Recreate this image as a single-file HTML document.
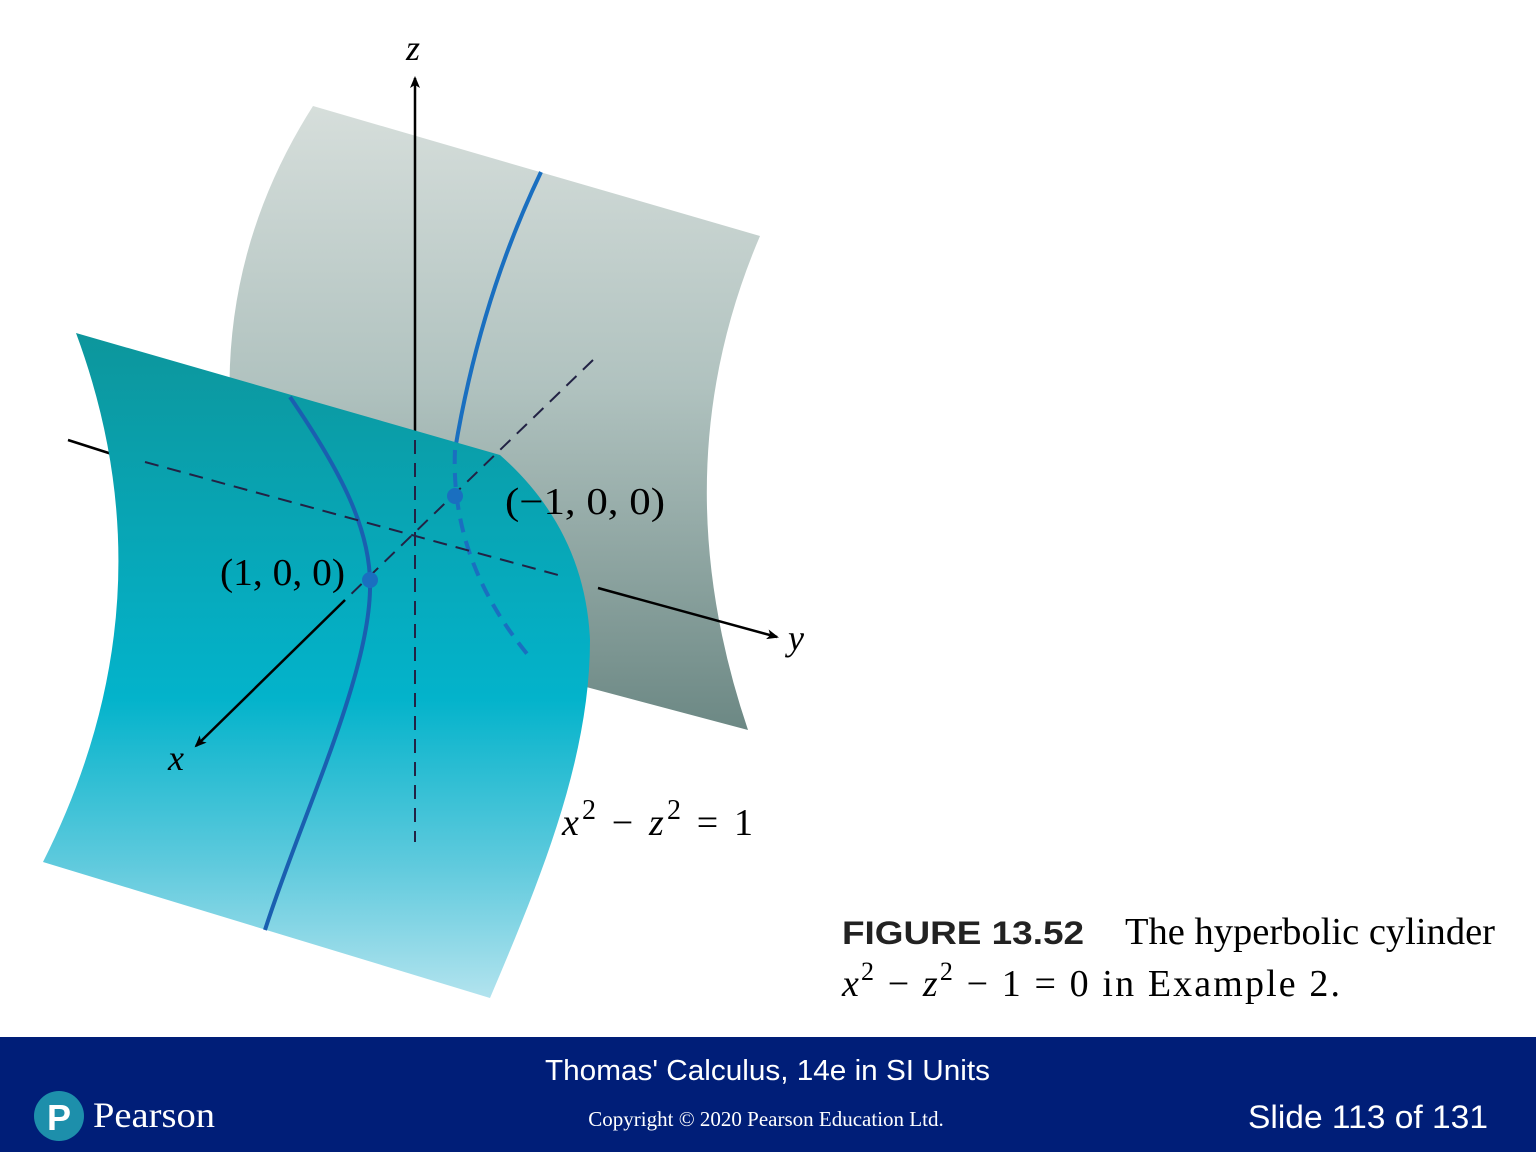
<!DOCTYPE html>
<html><head><meta charset="utf-8"><style>
html,body{margin:0;padding:0;width:1536px;height:1152px;overflow:hidden;background:#fff;font-family:"Liberation Serif",serif}
svg{display:block}
</style></head><body>
<svg width="1536" height="1152" viewBox="0 0 1536 1152">
<defs>
<linearGradient id="gback" x1="0" y1="0" x2="0" y2="1" gradientUnits="objectBoundingBox">
<stop offset="0" stop-color="#d6dedb"/><stop offset="0.45" stop-color="#b0c2bf"/><stop offset="1" stop-color="#6c8884"/></linearGradient>
<linearGradient id="gfront" x1="0" y1="0" x2="0" y2="1">
<stop offset="0" stop-color="#0d969c"/><stop offset="0.55" stop-color="#03b3cb"/><stop offset="0.8" stop-color="#5fcadd"/><stop offset="1" stop-color="#b2e3ee"/></linearGradient>
<marker id="arr" markerWidth="12" markerHeight="10" refX="10" refY="5" orient="auto" markerUnits="userSpaceOnUse"><path d="M0,0 L12,5 L0,10 L3,5 Z" fill="#000"/></marker>
</defs>
<g>
<path d="M313,106 L760,236 Q660,470 748,730 L560,680 L232,440 Q215,260 313,106 Z" fill="url(#gback)"/>
</g>
<path d="M541,172 Q480,300 455,450" stroke="#1a6fc0" stroke-width="4" fill="none"/>
<path d="M415,435 L415,78" stroke="#000" stroke-width="2.5" marker-end="url(#arr)"/>
<line x1="68" y1="440" x2="118" y2="456" stroke="#000" stroke-width="2.5"/>
<g>
<path d="M76,333 L500,455 Q585,530 590,640 C590,760 540,880 490,998 L43,862 Q175,600 76,333 Z" fill="url(#gfront)"/>
</g>
<path d="M455,450 Q450,560 528,655" stroke="#1a6fc0" stroke-width="4" fill="none" stroke-dasharray="14,9"/>
<path d="M290,397 C340,470 372,530 370,590 C368,680 300,820 265,930" stroke="#1a5fb0" stroke-width="4" fill="none"/>
<line x1="415" y1="440" x2="415" y2="842" stroke="#224" stroke-width="2" stroke-dasharray="14,9"/>
<line x1="145" y1="462" x2="558" y2="575" stroke="#224" stroke-width="2" stroke-dasharray="14,9"/>
<line x1="593" y1="360" x2="345" y2="600" stroke="#224" stroke-width="2" stroke-dasharray="14,9"/>
<path d="M345,600 L196,746" stroke="#000" stroke-width="2.5" marker-end="url(#arr)"/>
<path d="M598,588 L777,637" stroke="#000" stroke-width="2.5" marker-end="url(#arr)"/>
<circle cx="455" cy="496" r="8" fill="#1a6fc0"/>
<circle cx="370" cy="580" r="8" fill="#1a6fc0"/>
<text x="406" y="60" font-size="36" font-style="italic">z</text>
<text x="788" y="650" font-size="36" font-style="italic">y</text>
<text x="168" y="770" font-size="36" font-style="italic">x</text>
<text x="505" y="514" font-size="38" textLength="160" lengthAdjust="spacingAndGlyphs">(−1, 0, 0)</text>
<text x="220" y="585" font-size="38" textLength="125" lengthAdjust="spacingAndGlyphs">(1, 0, 0)</text>
<text x="562" y="835" font-size="38" textLength="191" lengthAdjust="spacing"><tspan font-style="italic">x</tspan><tspan dy="-16" font-size="28">2</tspan><tspan dy="16"> − </tspan><tspan font-style="italic">z</tspan><tspan dy="-16" font-size="28">2</tspan><tspan dy="16"> = 1</tspan></text>
<text x="842" y="944" font-family="Liberation Sans" font-weight="bold" font-size="32" fill="#222" textLength="242" lengthAdjust="spacingAndGlyphs">FIGURE 13.52</text>
<text x="1125" y="944" font-size="38" textLength="370" lengthAdjust="spacingAndGlyphs">The hyperbolic cylinder</text>
<text x="842" y="996" font-size="38" textLength="498" lengthAdjust="spacing"><tspan font-style="italic">x</tspan><tspan dy="-16" font-size="26">2</tspan><tspan dy="16"> − </tspan><tspan font-style="italic">z</tspan><tspan dy="-16" font-size="26">2</tspan><tspan dy="16"> − 1 = 0 in Example 2.</tspan></text>
<g>
<rect x="0" y="1037" width="1536" height="115" fill="#001e78"/>
<text x="545" y="1080" font-size="29" fill="#fff" font-family="Liberation Sans" textLength="445" lengthAdjust="spacingAndGlyphs">Thomas' Calculus, 14e in SI Units</text>
<text x="766" y="1126" font-size="21" fill="#fff" text-anchor="middle">Copyright © 2020 Pearson Education Ltd.</text>
<text x="1248" y="1128" font-size="32" fill="#fff" font-family="Liberation Sans" textLength="240" lengthAdjust="spacingAndGlyphs">Slide 113 of 131</text>
<circle cx="59" cy="1116" r="25" fill="#1d8fab"/>
<text x="59" y="1130" font-size="36" fill="#fff" text-anchor="middle" font-weight="bold" font-family="Liberation Sans">P</text>
<text x="93" y="1127" font-size="36" fill="#fff" textLength="122" lengthAdjust="spacingAndGlyphs">Pearson</text>
</g>
</svg>
</body></html>
